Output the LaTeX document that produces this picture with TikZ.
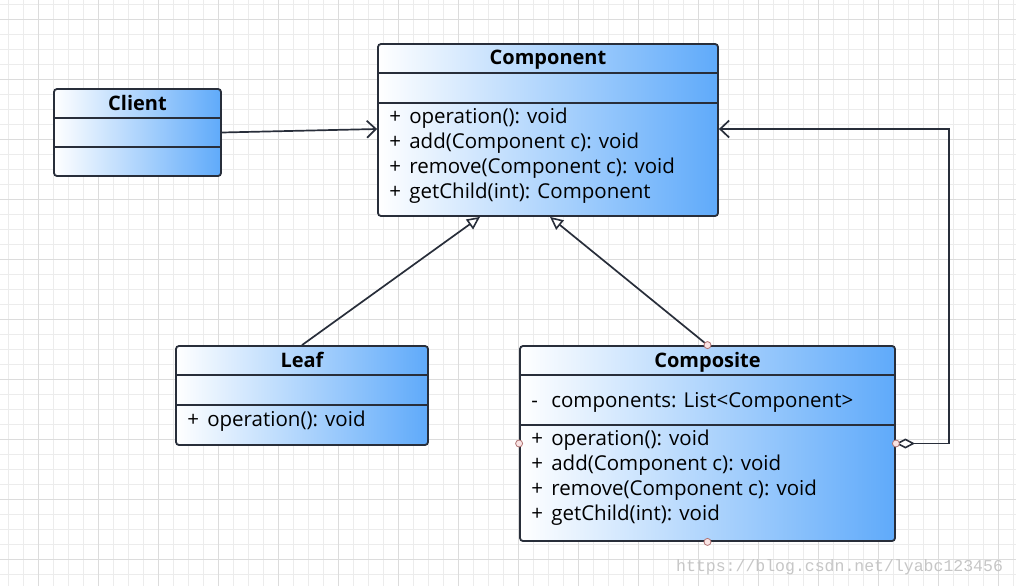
\documentclass[tikz,border=0pt]{standalone}
\usepackage{fontspec}
\setmainfont{Open Sans}
\setmonofont{Liberation Mono}
\usetikzlibrary{arrows.meta}

\definecolor{umlblue}{RGB}{95,170,250}
\definecolor{umlline}{RGB}{40,46,58}
\definecolor{gridminor}{RGB}{236,236,236}
\definecolor{gridmajor}{RGB}{220,220,220}
\definecolor{portfill}{RGB}{250,228,228}
\definecolor{portdraw}{RGB}{175,115,115}

\newcommand{\umlrow}[2]{\makebox[20pt][l]{#1}#2}

\begin{document}
\begin{tikzpicture}[x=1pt, y=-1pt,
  classbox/.style = {draw=umlline, line width=1.8pt, rounded corners=3pt,
                     left color=white, right color=umlblue, inner sep=0pt},
  sepline/.style = {draw=umlline, line width=1.8pt},
  title/.style = {font=\fontsize{20}{20}\selectfont\bfseries, anchor=base, inner sep=0pt},
  member/.style = {font=\fontsize{20.5}{20.5}\selectfont, anchor=base west, inner sep=0pt},
  assoc/.style = {draw=umlline, line width=1.7pt,
                  -{Straight Barb[length=9pt, width=17pt, line width=1.7pt]}},
  general/.style = {draw=umlline, line width=1.7pt,
                    -{Triangle[length=13pt, width=12pt, fill=white, line width=1.6pt]}},
  aggr/.style = {draw=umlline, line width=1.7pt,
                 {Diamond[length=19pt, width=10pt, fill=white, line width=1.6pt]}-{Straight Barb[length=9pt, width=17pt, line width=1.7pt]}},
  port/.style = {circle, draw=portdraw, fill=portfill, line width=0.8pt,
                 minimum size=7pt, inner sep=0pt},
  watermark/.style = {font=\ttfamily\fontsize{16.5}{16.5}\selectfont, text=gray!45,
                      anchor=base west, inner sep=0pt}]

\useasboundingbox (0,0) rectangle (1016,586);
\fill[white] (0,0) rectangle (1016,586);

% background grid
\foreach \gx in {8,23,...,1013} \draw[gridminor, line width=0.8pt] (\gx,0) -- (\gx,586);
\foreach \gy in {4,19,...,584} \draw[gridminor, line width=0.8pt] (0,\gy) -- (1016,\gy);
\foreach \gx in {38,98,...,998} \draw[gridmajor, line width=0.8pt] (\gx,0) -- (\gx,586);
\foreach \gy in {19,79,...,559} \draw[gridmajor, line width=0.8pt] (0,\gy) -- (1016,\gy);

% classes
\node[classbox, minimum width=167pt, minimum height=87pt] (client) at (137.5,132.5) {};
\node[classbox, minimum width=340pt, minimum height=172pt] (comp) at (548,130) {};
\node[classbox, minimum width=252pt, minimum height=99pt] (leaf) at (302,395.5) {};
\node[classbox, minimum width=375pt, minimum height=195pt] (composite) at (707.5,443.5) {};

% compartments
\draw[sepline] ([yshift=-30pt]client.north west) -- ([yshift=-30pt]client.north east);
\draw[sepline] ([yshift=-59pt]client.north west) -- ([yshift=-59pt]client.north east);
\draw[sepline] ([yshift=-30pt]comp.north west) -- ([yshift=-30pt]comp.north east);
\draw[sepline] ([yshift=-60pt]comp.north west) -- ([yshift=-60pt]comp.north east);
\draw[sepline] ([yshift=-30pt]leaf.north west) -- ([yshift=-30pt]leaf.north east);
\draw[sepline] ([yshift=-60pt]leaf.north west) -- ([yshift=-60pt]leaf.north east);
\draw[sepline] ([yshift=-30pt]composite.north west) -- ([yshift=-30pt]composite.north east);
\draw[sepline] ([yshift=-80pt]composite.north west) -- ([yshift=-80pt]composite.north east);

% titles
\node[title] (client-t) at ([yshift=-22pt]client.north) {Client};
\node[title] (comp-t) at ([yshift=-21pt]comp.north) {Component};
\node[title] (leaf-t) at ([yshift=-22pt]leaf.north) {Leaf};
\node[title] (composite-t) at ([yshift=-22pt]composite.north) {Composite};

% members
\foreach \txt [count=\i] in {operation(): void, add(Component c): void,
    remove(Component c): void, getChild(int): Component}
  \node[member] (comp-m\i) at ([xshift=12pt, yshift={-55pt-25pt*\i}]comp.north west) {\umlrow{+}{\txt}};
\node[member] (leaf-m1) at ([xshift=12pt, yshift=-81pt]leaf.north west) {\umlrow{+}{operation(): void}};
\node[member] (composite-a1) at ([xshift=12pt, yshift=-62pt]composite.north west) {\umlrow{-}{components: List<Component>}};
\foreach \txt [count=\i] in {operation(): void, add(Component c): void,
    remove(Component c): void, getChild(int): void}
  \node[member] (composite-m\i) at ([xshift=12pt, yshift={-75pt-25pt*\i}]composite.north west) {\umlrow{+}{\txt}};

% relations
\draw[assoc] (client.east) -- ([yshift=1pt]comp.west);
\draw[general] (leaf.north) -- ([xshift=-68pt]comp.south);
\draw[general] (composite.north) -- ([xshift=2pt]comp.south);
\draw[aggr] (composite.east) -- ++(53,0) |- ([yshift=1pt]comp.east);

% connection points
\node[port] (p-n) at (composite.north) {};
\node[port] (p-w) at (composite.west) {};
\node[port] (p-e) at (composite.east) {};
\node[port] (p-s) at (composite.south) {};

\node[watermark] (url) at (676,571) {https://blog.csdn.net/lyabc123456};
\end{tikzpicture}
\end{document}
